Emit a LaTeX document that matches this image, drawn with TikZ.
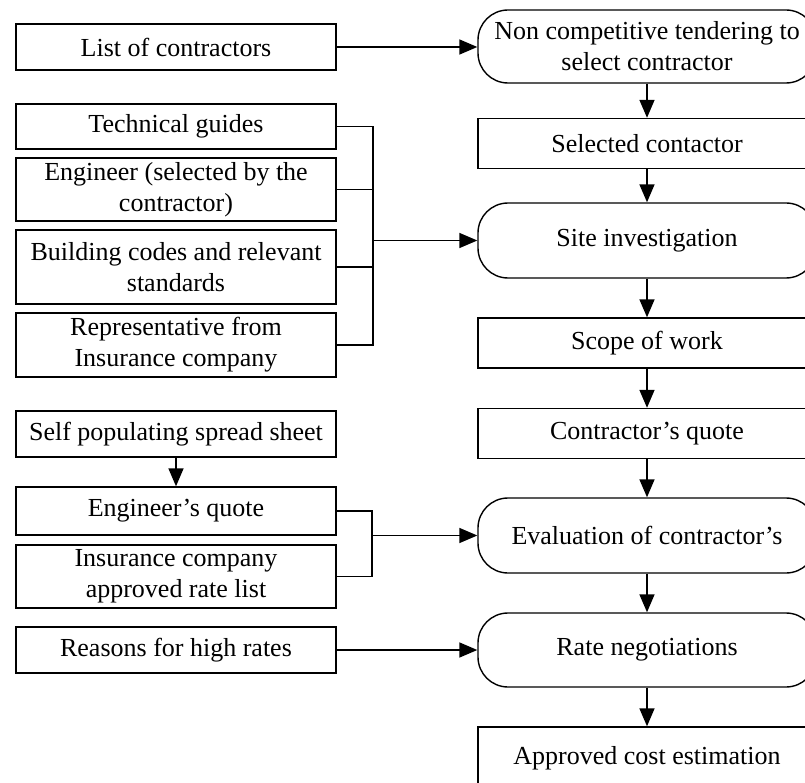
\documentclass[tikz,border=0pt]{standalone}
\usepackage{fontspec}
\setmainfont{Liberation Serif}
\usetikzlibrary{arrows.meta}

\begin{document}
\begin{tikzpicture}[
  x=1pt, y=-1pt,
  font=\fontsize{26}{31}\selectfont,
  box/.style={draw, line width=1.4pt, align=center, inner sep=0pt, minimum width=320pt},
  proc/.style={draw, line width=1.4pt, align=center, inner sep=0pt, minimum width=338pt, minimum height=50pt},
  term/.style={proc, rounded corners=30pt, minimum height=75pt},
  link/.style={line width=1.6pt},
  arrow/.style={-{Triangle[length=18pt,width=15pt]}, line width=1.6pt}
]

\useasboundingbox (0,0) rectangle (805,783);
\clip (0,0) rectangle (805,783);

\node[box, minimum height=46pt] (list) at (176,47) {List of contractors};
\node[box, minimum height=45pt] (tech) at (176,126.5) {Technical guides};
\node[box, minimum height=63pt] (eng) at (176,189.5) {Engineer (selected by the\\contractor)};
\node[box, minimum height=74pt] (codes) at (176,267) {Building codes and relevant\\standards};
\node[box, minimum height=64pt] (rep) at (176,345) {Representative from\\Insurance company};
\node[box, minimum height=46pt] (sheet) at (176,434) {Self populating spread sheet};
\node[box, minimum height=48pt] (engquote) at (176,511) {Engineer's quote};
\node[box, minimum height=63pt] (ratelist) at (176,576.5) {Insurance company\\approved rate list};
\node[box, minimum height=46pt] (reasons) at (176,650) {Reasons for high rates};

\node[term, minimum height=73pt] (noncomp) at (647,46.5) {Non competitive tendering to\\select contractor};
\node[proc] (selected) at (647,143.5) {Selected contactor};
\node[term] (site) at (647,240.5) {Site investigation};
\node[proc] (scope) at (647,343) {Scope of work};
\node[proc] (cquote) at (647,433.5) {Contractor's quote};
\node[term] (evaluation) at (647,535.5) {Evaluation of contractor's};
\node[term, minimum height=74pt] (negotiation) at (647,650) {Rate negotiations};
\node[proc, minimum height=62pt] (approved) at (647,758) {Approved cost estimation};

\draw[arrow] (noncomp) -- (selected);
\draw[arrow] (selected) -- (site);
\draw[arrow] (site) -- (scope);
\draw[arrow] (scope) -- (cquote);
\draw[arrow] (cquote) -- (evaluation);
\draw[arrow] (evaluation) -- (negotiation);
\draw[arrow] (negotiation) -- (approved);

\draw[arrow] (list.east) -- (list.east -| noncomp.west);

\coordinate (busA) at ([xshift=36pt]tech.east);
\draw[link] (tech.east) -- (busA) |- (rep.east);
\draw[link] (eng.east) -- (eng.east -| busA);
\draw[link] (codes.east) -- (codes.east -| busA);
\draw[arrow] (site.west -| busA) -- (site.west);

\draw[arrow] (sheet) -- (engquote);
\coordinate (busB) at ([xshift=35pt]engquote.east);
\draw[link] (engquote.east) -- (busB) |- (ratelist.east);
\draw[arrow] (evaluation.west -| busB) -- (evaluation.west);

\draw[arrow] (reasons.east) -- (reasons.east -| negotiation.west);

\end{tikzpicture}
\end{document}
